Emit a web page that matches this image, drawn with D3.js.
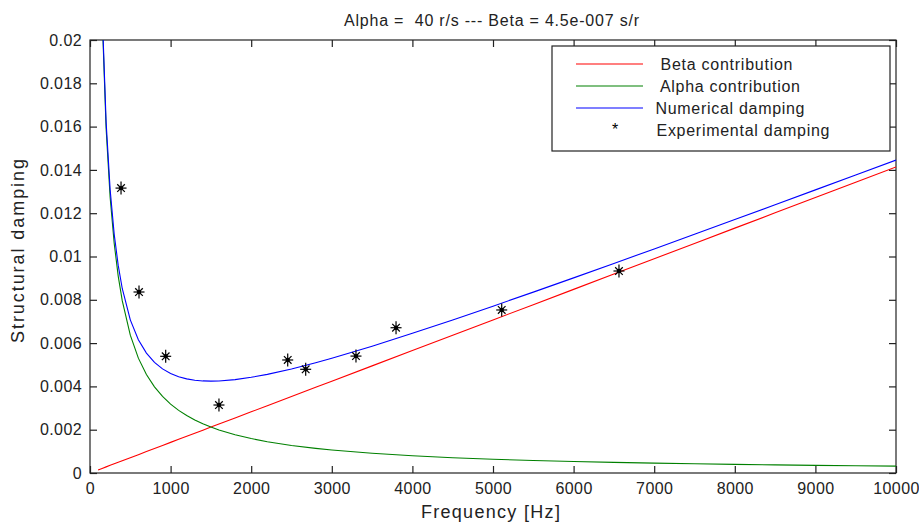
<!DOCTYPE html>
<html>
<head>
<meta charset="utf-8">
<script src="https://cdn.jsdelivr.net/npm/d3@7"></script>
<style>
  html, body { margin: 0; padding: 0; background: #fff; }
  svg { display: block; font-family: "Liberation Sans", Arial, sans-serif; }
</style>
</head>
<body>
<svg id="chart" width="919" height="527"></svg>
<script>
// ---- Data ----
const freq = [100,150,200,250,300,350,400,500,600,700,800,900,1000,1100,1200,1300,1400,1500,1600,1800,2000,2200,2500,2800,3000,3500,4000,4500,5000,5500,6000,6500,7000,7500,8000,8500,9000,9500,10000];
const betaContribution = [0.000141,0.000212,0.000283,0.000353,0.000424,0.000495,0.000565,0.000707,0.000848,0.000990,0.001131,0.001272,0.001414,0.001555,0.001696,0.001838,0.001979,0.002121,0.002262,0.002545,0.002827,0.003110,0.003534,0.003958,0.004241,0.004948,0.005655,0.006362,0.007069,0.007775,0.008482,0.009189,0.009896,0.010603,0.011310,0.012017,0.012723,0.013430,0.014137];
const alphaContribution = [0.031831,0.021221,0.015915,0.012732,0.010610,0.009095,0.007958,0.006366,0.005305,0.004547,0.003979,0.003537,0.003183,0.002894,0.002653,0.002449,0.002274,0.002122,0.001989,0.001768,0.001592,0.001447,0.001273,0.001137,0.001061,0.000909,0.000796,0.000707,0.000637,0.000579,0.000531,0.000490,0.000455,0.000424,0.000398,0.000374,0.000354,0.000335,0.000318];
const numericalDamping = [0.031972,0.021433,0.016198,0.013085,0.011034,0.009590,0.008523,0.007073,0.006153,0.005537,0.005110,0.004809,0.004597,0.004449,0.004349,0.004287,0.004253,0.004243,0.004251,0.004313,0.004419,0.004557,0.004807,0.005095,0.005302,0.005857,0.006451,0.007069,0.007706,0.008354,0.009013,0.009679,0.010351,0.011027,0.011708,0.012391,0.013077,0.013765,0.014455];
const expFreq = [385,608,939,1600,2453,2676,3300,3797,5108,6563];
const expDamping = [0.01316,0.00836,0.00539,0.00314,0.00522,0.00479,0.0054,0.00671,0.00753,0.00933];
const xTicks = [0,1000,2000,3000,4000,5000,6000,7000,8000,9000,10000];
const yTicks = [0,0.002,0.004,0.006,0.008,0.01,0.012,0.014,0.016,0.018,0.02];
const yTickLabels = ["0","0.002","0.004","0.006","0.008","0.01","0.012","0.014","0.016","0.018","0.02"];
const seriesNames = ["Beta contribution","Alpha contribution","Numerical damping","Experimental damping"];
const seriesColors = ["#ff0000","#008000","#0000ff","#000000"];
const titleText = "Alpha =  40 r/s --- Beta = 4.5e-007 s/r";
const xLabel = "Frequency [Hz]";
const yLabel = "Structural damping";

// ---- Layout ----
const L = 90, R = 896, T = 40, B = 473;
const svg = d3.select("#chart");
const x = d3.scaleLinear().domain([0, 10000]).range([L, R]);
const y = d3.scaleLinear().domain([0, 0.02]).range([B, T]);

svg.append("defs").append("clipPath").attr("id", "clip")
  .append("rect").attr("x", L).attr("y", T).attr("width", R - L).attr("height", B - T);

// Axes
const fontSize = 16;
const gx = svg.append("g").attr("transform", `translate(0,${B})`)
  .call(d3.axisBottom(x).tickValues(xTicks).tickSizeInner(-7).tickSizeOuter(0).tickPadding(10).tickFormat(d3.format("d")));
const gy = svg.append("g").attr("transform", `translate(${L},0)`)
  .call(d3.axisLeft(y).tickValues(yTicks).tickSizeInner(-7).tickSizeOuter(0).tickPadding(8).tickFormat((d, i) => yTickLabels[i]));
const gt = svg.append("g").attr("transform", `translate(0,${T})`)
  .call(d3.axisTop(x).tickValues(xTicks).tickSizeInner(-7).tickSizeOuter(0).tickFormat(""));
const gr = svg.append("g").attr("transform", `translate(${R},0)`)
  .call(d3.axisRight(y).tickValues(yTicks).tickSizeInner(-7).tickSizeOuter(0).tickFormat(""));
[gx, gy, gt, gr].forEach(g => {
  g.select(".domain").remove();
  g.selectAll(".tick line").attr("stroke", "#222").attr("stroke-width", 1.2);
  g.selectAll(".tick text").attr("fill", "#222").attr("font-size", fontSize)
    .attr("font-family", "Liberation Sans, Arial, sans-serif").attr("letter-spacing", "0.4px");
});

// Box
svg.append("rect").attr("x", L).attr("y", T).attr("width", R - L).attr("height", B - T)
  .attr("fill", "none").attr("stroke", "#222").attr("stroke-width", 1.2);

// Lines
const plot = svg.append("g").attr("clip-path", "url(#clip)");
const seriesData = [betaContribution, alphaContribution, numericalDamping];
const line = d3.line().x(d => x(d[0])).y(d => y(d[1]));
seriesData.forEach((vals, k) => {
  plot.append("path")
    .datum(freq.map((f, i) => [f, vals[i]]))
    .attr("fill", "none").attr("stroke", seriesColors[k]).attr("stroke-width", 1.1)
    .attr("d", line);
});

// Experimental markers (asterisks)
function star(g, cx, cy) {
  const s = g.append("g").attr("transform", `translate(${cx},${cy})`).attr("stroke", "#000").attr("stroke-width", 1.2);
  s.append("line").attr("x1", -5.5).attr("x2", 5.5).attr("y1", 0).attr("y2", 0);
  s.append("line").attr("x1", 0).attr("x2", 0).attr("y1", -6.5).attr("y2", 6.5);
  s.append("line").attr("x1", -3.8).attr("x2", 3.8).attr("y1", -3.8).attr("y2", 3.8);
  s.append("line").attr("x1", -3.8).attr("x2", 3.8).attr("y1", 3.8).attr("y2", -3.8);
  s.append("circle").attr("r", 2.2).attr("fill", "#000").attr("stroke", "none");
}
expFreq.forEach((f, i) => star(plot, x(f), y(expDamping[i])));

// Title and labels
svg.append("text").attr("x", 491.5).attr("y", 26).attr("text-anchor", "middle")
  .attr("font-size", 16).attr("fill", "#222")
  .attr("textLength", 295).attr("lengthAdjust", "spacing")
  .style("white-space", "pre").text(titleText);
svg.append("text").attr("x", 490.4).attr("y", 518).attr("text-anchor", "middle")
  .attr("font-size", 18).attr("fill", "#222")
  .attr("textLength", 139).attr("lengthAdjust", "spacing").text(xLabel);
svg.append("text").attr("transform", "translate(24,251) rotate(-90)").attr("text-anchor", "middle")
  .attr("font-size", 18).attr("fill", "#222")
  .attr("textLength", 184).attr("lengthAdjust", "spacing").text(yLabel);

// Legend
const lg = svg.append("g");
lg.append("rect").attr("x", 552).attr("y", 46).attr("width", 338).attr("height", 105)
  .attr("fill", "#fff").attr("stroke", "#222").attr("stroke-width", 1.2);
const legY = [64, 86, 108, 130];
const legTextX = [660.5, 660, 655.5, 656.5];
const legTextLen = [132, 140, 149, 173];
seriesNames.forEach((name, k) => {
  if (k < 3) {
    lg.append("line").attr("x1", 576).attr("x2", 643).attr("y1", legY[k]).attr("y2", legY[k])
      .attr("stroke", seriesColors[k]).attr("stroke-width", 1.1);
  } else {
    lg.append("text").attr("x", 615).attr("y", legY[k] + 4.5).attr("text-anchor", "middle")
      .attr("font-size", 16).attr("fill", "#000").text("*");
  }
  lg.append("text").attr("x", legTextX[k]).attr("y", legY[k] + 6)
    .attr("font-size", 16).attr("fill", "#222")
    .attr("textLength", legTextLen[k]).attr("lengthAdjust", "spacing").text(name);
});
</script>
</body>
</html>
